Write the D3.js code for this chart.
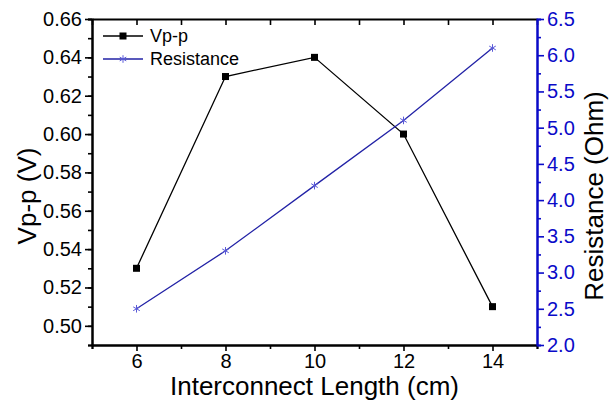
<!DOCTYPE html>
<html>
<head>
<meta charset="utf-8">
<script src="https://cdn.jsdelivr.net/npm/d3@7"></script>
<style>
  body { margin: 0; background: #fff; }
  text { font-family: "Liberation Sans", Arial, sans-serif; }
</style>
</head>
<body>
<div id="chart"></div>
<script>
const lengths = [6, 8, 10, 12, 14];
const vppValues = [0.53, 0.63, 0.64, 0.60, 0.51];
const resistanceValues = [2.5, 3.3, 4.2, 5.1, 6.1];
const xTicks = [6, 8, 10, 12, 14];
const vppTicks = [0.50, 0.52, 0.54, 0.56, 0.58, 0.60, 0.62, 0.64, 0.66];
const resTicks = [2.0, 2.5, 3.0, 3.5, 4.0, 4.5, 5.0, 5.5, 6.0, 6.5];

const margin = { top: 19, right: 73, bottom: 56, left: 92 };
const width = 610 - margin.left - margin.right;
const height = 401 - margin.top - margin.bottom;

const blueAxis = "#0a0ac8";
const blueLine = "#2222a6";

const svg = d3.select("#chart")
  .append("svg")
    .attr("width", 610)
    .attr("height", 401)
  .append("g")
    .attr("transform", `translate(${margin.left}, ${margin.top})`);

const x = d3.scaleLinear().domain([5, 15]).range([0, width]);
const yLeft = d3.scaleLinear().domain([0.49, 0.66]).range([height, 0]);
const yRight = d3.scaleLinear().domain([2.0, 6.5]).range([height, 0]);

function styleAxis(g, color) {
  g.select(".domain").attr("stroke", color).attr("stroke-width", 2);
  g.selectAll("line").attr("stroke", color).attr("stroke-width", 1.6);
  g.selectAll("text")
    .attr("fill", color)
    .style("font-size", "20px");
}

// minor ticks first, then majors on top
svg.append("g")
  .attr("transform", `translate(0, ${height})`)
  .call(d3.axisBottom(x).tickValues([5, 7, 9, 11, 13, 15]).tickSize(4).tickFormat(""))
  .call(g => styleAxis(g, "#000"));

svg.append("g")
  .attr("transform", `translate(0, ${height})`)
  .call(d3.axisBottom(x).tickValues(xTicks).tickSize(6).tickSizeOuter(0).tickPadding(3))
  .call(g => styleAxis(g, "#000"));

svg.append("g")
  .call(d3.axisBottom(x).tickValues([5, 6, 7, 8, 9, 10, 11, 12, 13, 14, 15]).tickSize(6).tickSizeOuter(0).tickFormat(""))
  .call(g => styleAxis(g, "#000"));

svg.append("g")
  .call(d3.axisLeft(yLeft).tickValues(d3.range(0.49, 0.665, 0.01)).tickSize(4).tickFormat(""))
  .call(g => styleAxis(g, "#000"));

svg.append("g")
  .call(d3.axisLeft(yLeft).tickValues(vppTicks).tickSize(7).tickSizeOuter(0).tickPadding(3).tickFormat(d3.format(".2f")))
  .call(g => styleAxis(g, "#000"));

svg.append("g")
  .attr("transform", `translate(${width}, 0)`)
  .call(d3.axisRight(yRight).tickValues(d3.range(2.25, 6.5, 0.5)).tickSize(4).tickFormat(""))
  .call(g => styleAxis(g, blueAxis));

svg.append("g")
  .attr("transform", `translate(${width}, 0)`)
  .call(d3.axisRight(yRight).tickValues(resTicks).tickSize(7).tickSizeOuter(0).tickPadding(3).tickFormat(d3.format(".1f")))
  .call(g => styleAxis(g, blueAxis));

// axis titles
svg.append("text")
  .attr("x", width / 2)
  .attr("y", height + 50)
  .attr("text-anchor", "middle")
  .style("font-size", "26px")
  .text("Interconnect Length (cm)");

svg.append("text")
  .attr("transform", "rotate(-90)")
  .attr("x", -177)
  .attr("y", -56)
  .attr("text-anchor", "middle")
  .style("font-size", "26px")
  .text("Vp-p (V)");

svg.append("text")
  .attr("transform", "rotate(-90)")
  .attr("x", -177)
  .attr("y", width + 66)
  .attr("text-anchor", "middle")
  .style("font-size", "26px")
  .text("Resistance (Ohm)");

// series
const vppData = lengths.map((d, i) => ({ len: d, v: vppValues[i] }));
const resData = lengths.map((d, i) => ({ len: d, v: resistanceValues[i] }));

svg.append("path")
  .datum(vppData)
  .attr("fill", "none")
  .attr("stroke", "#000")
  .attr("stroke-width", 1.3)
  .attr("d", d3.line().x(d => x(d.len)).y(d => yLeft(d.v)));

svg.append("path")
  .datum(resData)
  .attr("fill", "none")
  .attr("stroke", blueLine)
  .attr("stroke-width", 1.3)
  .attr("d", d3.line().x(d => x(d.len)).y(d => yRight(d.v)));

svg.selectAll(".sq")
  .data(vppData)
  .enter()
  .append("rect")
    .attr("class", "sq")
    .attr("x", d => x(d.len) - 3.5)
    .attr("y", d => yLeft(d.v) - 3.5)
    .attr("width", 7)
    .attr("height", 7)
    .attr("fill", "#000");

const star = d3.symbol().type(d3.symbolAsterisk).size(40);

svg.selectAll(".star")
  .data(resData)
  .enter()
  .append("path")
    .attr("class", "star")
    .attr("transform", d => `translate(${x(d.len)}, ${yRight(d.v)})`)
    .attr("d", star)
    .attr("fill", "none")
    .attr("stroke", "#5a5ad8")
    .attr("stroke-width", 1);

// legend
const legend = svg.append("g").attr("transform", "translate(11, 17)");

legend.append("line")
  .attr("x1", 0).attr("x2", 40).attr("y1", 0).attr("y2", 0)
  .attr("stroke", "#000").attr("stroke-width", 1.3);
legend.append("rect")
  .attr("x", 16.5).attr("y", -3.5).attr("width", 7).attr("height", 7)
  .attr("fill", "#000");
legend.append("text")
  .attr("x", 47).attr("y", 6)
  .style("font-size", "18px")
  .text("Vp-p");

legend.append("line")
  .attr("x1", 0).attr("x2", 40).attr("y1", 23).attr("y2", 23)
  .attr("stroke", blueLine).attr("stroke-width", 1.3);
legend.append("path")
  .attr("transform", "translate(20, 23)")
  .attr("d", star)
  .attr("fill", "none")
  .attr("stroke", "#5a5ad8")
  .attr("stroke-width", 1);
legend.append("text")
  .attr("x", 47).attr("y", 29)
  .style("font-size", "18px")
  .text("Resistance");
</script>
</body>
</html>
